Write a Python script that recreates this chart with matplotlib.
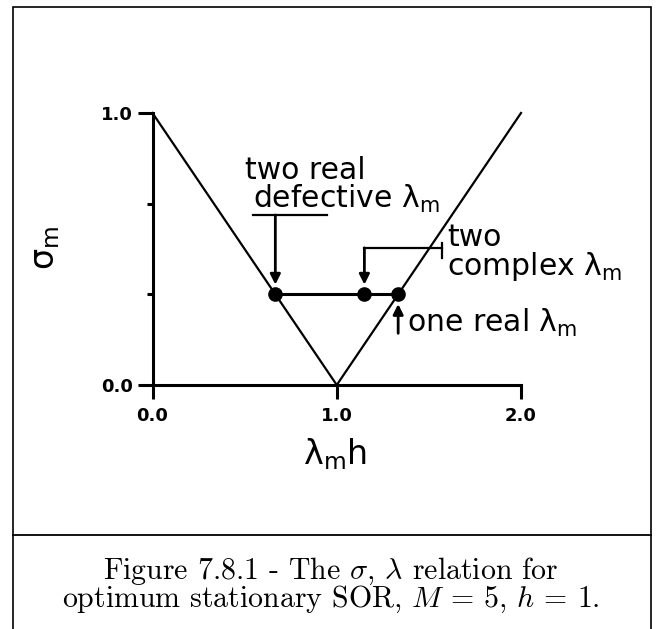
import matplotlib
matplotlib.use("Agg")
import matplotlib.pyplot as plt
from matplotlib.lines import Line2D
from matplotlib.patches import Rectangle

plt.rcParams['font.family'] = ['DejaVu Sans']
plt.rcParams['mathtext.default'] = 'regular'

# sigma_m versus lambda_m * h
curve_x = [0.0, 1.0, 2.0]
curve_y = [1.0, 0.0, 1.0]

# the three marked eigenvalue cases on sigma = 1/3
sigma_level = 1.0 / 3.0
point_x = [2.0 / 3.0, 1.15, 4.0 / 3.0]

x_ticks = [0.0, 1.0, 2.0]
x_tick_labels = ["0.0", "1.0", "2.0"]
y_ticks = [0.0, 1.0]
y_tick_labels = ["0.0", "1.0"]
y_minor_ticks = [1.0 / 3.0, 2.0 / 3.0]

W, H = 657, 629
fig = plt.figure(figsize=(W / 100, H / 100), dpi=100)

# page frame and caption separator
fig.patches.append(Rectangle((12.5 / W, -0.01), (650.5 - 12.5) / W, (H - 7) / H + 0.01,
                             transform=fig.transFigure, fill=False,
                             edgecolor="black", linewidth=1.2))
fig.lines.append(Line2D([12.5 / W, 650.5 / W], [1 - 535 / H, 1 - 535 / H],
                        transform=fig.transFigure, color="black", linewidth=1.3))

ax = fig.add_axes([152.5 / W, 1 - 385 / H, (521 - 152.5) / W, (385 - 113) / H])
ax.set_xlim(0, 2)
ax.set_ylim(0, 1)
for s in ("top", "right"):
    ax.spines[s].set_visible(False)
for s in ("left", "bottom"):
    ax.spines[s].set_linewidth(2.2)

ax.set_xticks(x_ticks)
ax.set_xticklabels(x_tick_labels, fontsize=13, fontweight="bold")
ax.set_yticks(y_ticks)
ax.set_yticklabels(y_tick_labels, fontsize=13, fontweight="bold")
ax.set_yticks(y_minor_ticks, minor=True)
ax.tick_params(axis="x", direction="out", length=10, width=2.2, pad=6)
ax.tick_params(axis="y", which="major", direction="out", length=11, width=2.2, pad=3)
ax.tick_params(axis="y", which="minor", direction="out", length=4, width=2.2)

ax.plot(curve_x, curve_y, color="black", linewidth=1.6, clip_on=False)
ax.plot([point_x[0], point_x[-1]], [sigma_level, sigma_level],
        color="black", linewidth=2.2, clip_on=False)
ax.plot(point_x, [sigma_level] * len(point_x), "o", color="black",
        markersize=9.5, clip_on=False, zorder=5)

ax.set_xlabel(r"$\lambda_m h$", fontsize=24)
ax.xaxis.set_label_coords(0.495, -0.19)
ax.set_ylabel(r"$\sigma_m$", fontsize=24)
ax.yaxis.set_label_coords(-0.245, 0.504)

arrow_kw = dict(arrowstyle="-|>,head_length=0.6,head_width=0.3",
                color="black", linewidth=2.0, shrinkA=0, shrinkB=7)
text_kw = dict(fontsize=21.5, color="black")

# two real defective lambda_m
ax.text(0.50, 0.757, "two real", **text_kw)
ax.text(0.545, 0.65, r"defective $\lambda_m$", **text_kw)
ax.plot([0.545, 0.947], [0.625, 0.625], color="black", linewidth=1.6)
ax.annotate("", xy=(point_x[0], sigma_level), xytext=(point_x[0], 0.625),
            arrowprops=arrow_kw)

# two complex lambda_m
ax.plot([point_x[1], 1.571], [0.504, 0.504], color="black", linewidth=1.6)
ax.plot([1.571, 1.571], [0.467, 0.522], color="black", linewidth=1.6)
ax.annotate("", xy=(point_x[1], sigma_level), xytext=(point_x[1], 0.504),
            arrowprops=arrow_kw)
ax.text(1.598, 0.404, "two\n" + r"complex $\lambda_m$", va="baseline",
        linespacing=0.92, **text_kw)

# one real lambda_m
ax.annotate("", xy=(point_x[2], sigma_level), xytext=(point_x[2], 0.19),
            arrowprops=arrow_kw)
ax.text(1.38, 0.195, r"one real $\lambda_m$", **text_kw)

# caption in a Computer Modern face, italic math symbols
fig.text(331 / W, 1 - 607 / H,
         r"Figure 7.8.1 - The $\mathit{\sigma}$, $\mathit{\lambda}$ relation for"
         "\n"
         r"optimum stationary SOR, $\mathit{M}$ = 5, $\mathit{h}$ = 1.",
         fontsize=21.5, family=["cmr10", "DejaVu Serif"], ha="center",
         multialignment="center", va="baseline", linespacing=0.88,
         math_fontfamily="cm")

fig.savefig("out.png", dpi=100)
